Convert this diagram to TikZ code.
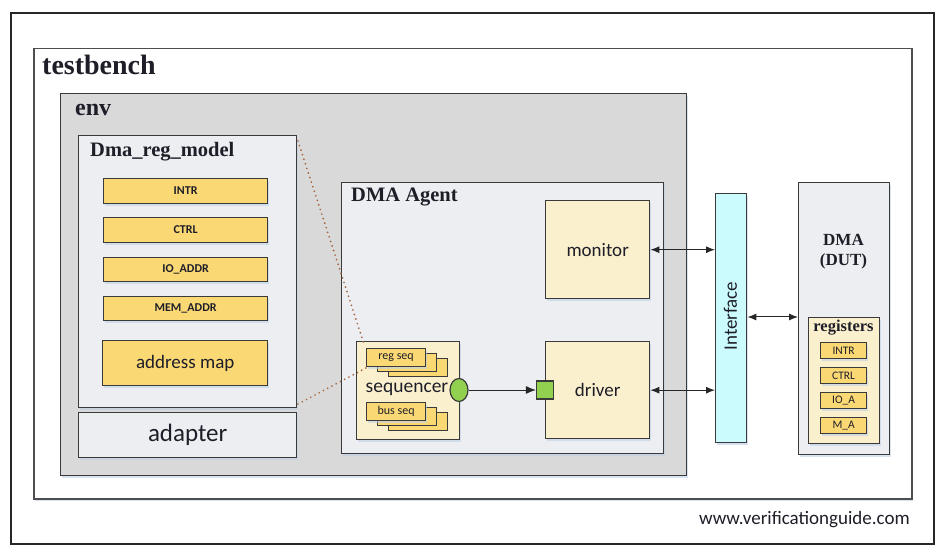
\documentclass[tikz,border=0pt]{standalone}
\usepackage{fontspec}
\setmainfont{Liberation Serif}
\newfontfamily\calfont{Carlito}
\usetikzlibrary{shapes.geometric,arrows.meta,shadows}
\definecolor{edgec}{HTML}{3A3A3A}
\definecolor{grayfill}{HTML}{D9D9D9}
\definecolor{lightfill}{HTML}{ECEEF1}
\definecolor{regy}{HTML}{FAD874}
\definecolor{cream}{HTML}{FBF0CE}
\definecolor{cyanf}{HTML}{CCFBFD}
\definecolor{greenf}{HTML}{92D050}
\definecolor{dotc}{HTML}{A5613A}
\definecolor{shadc}{HTML}{BFD0E6}
\definecolor{txt}{HTML}{1E1E28}
\tikzset{
  box/.style={draw=edgec, line width=1.4pt, rectangle, inner sep=0pt, anchor=north west, text=txt},
  shad/.style={drop shadow={shadow xshift=1.5pt, shadow yshift=-2.5pt, fill=shadc, opacity=0.6}},
  regbox/.style={box, fill=regy, line width=1.2pt, font=\calfont\bfseries\fontsize{12}{12}\selectfont},
  dregbox/.style={box, fill=regy, line width=1.2pt, minimum width=46pt, minimum height=16pt, font=\calfont\fontsize{11.5}{11.5}\selectfont},
  seqbox/.style={box, fill=regy, line width=1.2pt, minimum width=59pt, minimum height=18pt, font=\calfont\fontsize{12}{12}\selectfont},
  title/.style={anchor=west, inner sep=0pt, text=txt, font=\bfseries\fontsize{#1}{#1}\selectfont},
  bidir/.style={{Latex[length=9pt,width=7pt]}-{Latex[length=9pt,width=7pt]}, line width=1pt, draw=black!85},
  dots/.style={draw=dotc, line width=1.9pt, dash pattern=on 0pt off 4.8pt, line cap=round}
}
\begin{document}
\begin{tikzpicture}[x=1pt,y=-1pt]
\useasboundingbox (0,0) rectangle (940,553);
% outer frame
\node[box, fill=white, draw=black!85, line width=2pt, minimum width=923pt, minimum height=531pt] (outer) at (10,12) {};
% testbench
\node[box, shad, fill=white, draw=edgec!90, line width=1.5pt, minimum width=878pt, minimum height=450pt] (tb) at (33,48) {};
\node[title=28] (tbl) at (42,65) {testbench};
% env
\node[box, shad, fill=grayfill, minimum width=626pt, minimum height=382pt] (env) at (60,93) {};
\node[title=24] (envl) at (75,110) {env};
% reg model
\node[box, shad, fill=lightfill, minimum width=218pt, minimum height=272pt] (rm) at (78,135) {};
\node[title=20.5] (rml) at (90,152) {Dma\_reg\_model};
\node[regbox, shad, minimum width=164pt, minimum height=25pt] (r1) at (103,178) {INTR};
\node[regbox, shad, minimum width=164pt, minimum height=25pt] (r2) at (103,217) {CTRL};
\node[regbox, shad, minimum width=164pt, minimum height=24pt] (r3) at (103,257) {IO\_ADDR};
\node[regbox, shad, minimum width=164pt, minimum height=24pt] (r4) at (103,296) {MEM\_ADDR};
\node[box, shad, fill=regy, minimum width=165pt, minimum height=45pt, font=\calfont\fontsize{19}{19}\selectfont] (am) at (102,340) {address map};
% adapter
\node[box, shad, fill=lightfill, minimum width=218pt, minimum height=45pt, font=\calfont\fontsize{25}{25}\selectfont] (ad) at (78,412) {adapter};
% agent
\node[box, shad, fill=lightfill, minimum width=322pt, minimum height=271pt] (ag) at (341,182) {};
\node[title=20.5] (agl) at (351,197) {DMA Agent};
\node[box, shad, fill=cream, minimum width=104pt, minimum height=98pt, font=\calfont\fontsize{19}{19}\selectfont] (mon) at (545,200) {monitor};
\node[box, shad, fill=cream, minimum width=104pt, minimum height=97pt, font=\calfont\fontsize{19}{19}\selectfont] (drv) at (545,341) {driver};
% sequencer
\node[box, shad, fill=cream, minimum width=103pt, minimum height=98pt] (sq) at (356,341) {};
\node[seqbox] (rs3) at (388,358) {};
\node[seqbox] (rs2) at (377,353) {};
\node[seqbox, shad] (rs1) at (366,348) {reg seq};
\node[seqbox] (bs3) at (388,412) {};
\node[seqbox] (bs2) at (377,407) {};
\node[seqbox, shad] (bs1) at (366,402) {bus seq};
\node[anchor=center, inner sep=0pt, text=txt, font=\calfont\fontsize{19.5}{19.5}\selectfont] (sql) at (407,389) {sequencer};
\node[ellipse, draw=edgec, line width=1.2pt, fill=greenf, minimum width=18pt, minimum height=23pt, inner sep=0pt] (port) at (459,390) {};
\node[rectangle, draw=edgec, line width=1.2pt, fill=greenf, minimum width=17pt, minimum height=18pt, inner sep=0pt] (exp) at (545,390) {};
\draw[-{Latex[length=10pt,width=8pt]}, line width=1pt, draw=black!85] (port.east) -- (exp.west);
% interface
\node[box, shad, fill=cyanf, minimum width=31pt, minimum height=249pt] (ifc) at (715,193) {};
\node[rotate=90, inner sep=0pt, text=txt, font=\calfont\fontsize{19}{19}\selectfont] (ifl) at (730.5,316) {Interface};
% DUT
\node[box, shad, fill=lightfill, minimum width=91pt, minimum height=272pt] (dut) at (798,182) {};
\node[align=center, inner sep=0pt, text=txt, font=\bfseries\fontsize{17}{20}\selectfont] (dutl) at (843.5,252) {DMA\\(DUT)};
\node[box, shad, fill=cream, minimum width=71pt, minimum height=126pt] (regs) at (808,317) {};
\node[title=16.5, anchor=center] (regsl) at (843.5,328) {registers};
\node[dregbox, shad] (d1) at (820,342) {INTR};
\node[dregbox, shad] (d2) at (820,367) {CTRL};
\node[dregbox, shad] (d3) at (820,392) {IO\_A};
\node[dregbox, shad] (d4) at (820,417) {M\_A};
% arrows
\draw[bidir] (mon.east) -- (mon.east -| ifc.west);
\draw[bidir] (drv.east) -- (drv.east -| ifc.west);
\draw[bidir] (ifc.east |- regs.north) -- (dut.west |- regs.north);
% dotted links
\coordinate (da) at (298,141);
\coordinate (db) at (364,344);
\coordinate (dc) at (298,404);
\coordinate (dd) at (366,368);
\draw[dots] (da) -- (db);
\draw[dots] (dc) -- (dd);
% website
\node[anchor=east, inner sep=0pt, text=txt, font=\calfont\fontsize{19}{19}\selectfont] (web) at (910,520) {www.verificationguide.com};
\end{tikzpicture}
\end{document}
